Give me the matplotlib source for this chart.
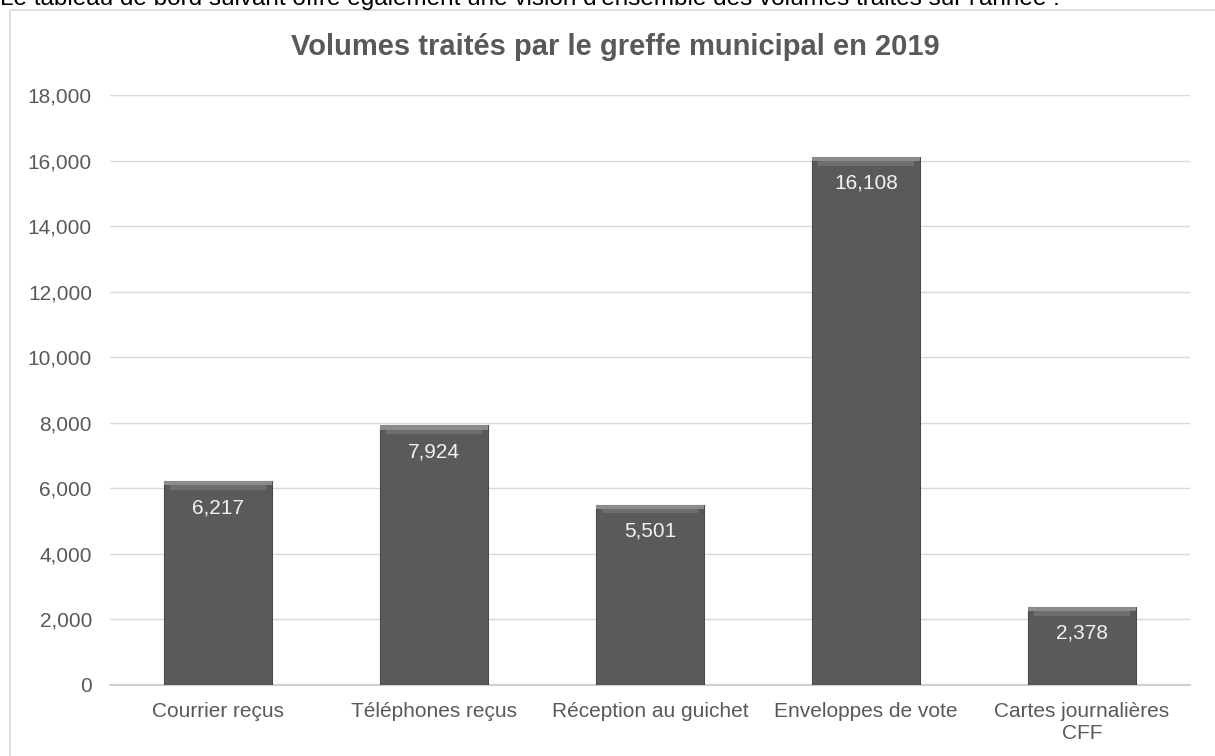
import matplotlib
matplotlib.use("Agg")
import matplotlib.pyplot as plt
from matplotlib.patches import Rectangle

categories = ["Courrier reçus", "Téléphones reçus", "Réception au guichet",
              "Enveloppes de vote", "Cartes journalières\nCFF"]
values = [6217, 7924, 5501, 16108, 2378]
yticks = [0, 2000, 4000, 6000, 8000, 10000, 12000, 14000, 16000, 18000]
title = "Volumes traités par le greffe municipal en 2019"
intro = "Le tableau de bord suivant offre également une vision d'ensemble des volumes traités sur l'année :"

plt.rcParams['font.family'] = ['Liberation Sans', 'DejaVu Sans']

fig = plt.figure(figsize=(12.15, 7.56), dpi=100)
ax = fig.add_axes([110/1215, 1-685/756, 1080/1215, 590/756])

x = list(range(len(categories)))
bar_color = "#5a5a5a"
ax.bar(x, values, width=0.5, color=bar_color, edgecolor="#4a4a4a", linewidth=0.8, zorder=3)
# bevel highlight at top of bars
hl = 130
ax.bar(x, [hl]*len(values), bottom=[v - hl for v in values], width=0.5,
       color="#8c8c8c", linewidth=0, zorder=4)
ax.bar(x, [hl]*len(values), bottom=[v - 2*hl for v in values], width=0.44,
       color="#6e6e6e", linewidth=0, zorder=4)

for xi, v in zip(x, values):
    ax.annotate(f"{v:,}", (xi, v), xytext=(0, -19), textcoords="offset points",
                ha="center", va="center", color="#f2f2f2", fontsize=15, zorder=5)

ax.set_xlim(-0.5, len(categories) - 0.5)
ax.set_ylim(0, 18000)
ax.set_yticks(yticks)
ax.set_yticklabels([f"{t:,}" for t in yticks])
ax.set_xticks(x)
ax.set_xticklabels(categories, linespacing=1.2)
ax.tick_params(axis="both", length=0, colors="#595959", labelsize=15)
ax.tick_params(axis="y", pad=13)
ax.tick_params(axis="x", pad=12)
ax.yaxis.grid(True, color="#d9d9d9", linewidth=1.0, zorder=0)
ax.set_axisbelow(True)
for s in ["top", "right", "left"]:
    ax.spines[s].set_visible(False)
ax.spines["bottom"].set_color("#d0d0d0")
ax.spines["bottom"].set_linewidth(1.5)

fig.text(615/1215, 1-47/756, title, ha="center", va="center", fontsize=21,
         fontweight="bold", color="#595959")

# chart frame (extends past right and bottom edges)
fig.patches.append(Rectangle((10/1215, -0.05), 1.1, 1.05 - 10/756,
                             transform=fig.transFigure, fill=False,
                             edgecolor="#d9d9d9", linewidth=1.2))
fig.text(0.0, 1-5/756, intro, ha="left", va="baseline", fontsize=17.5, color="black")

fig.savefig("out.png", dpi=100)
